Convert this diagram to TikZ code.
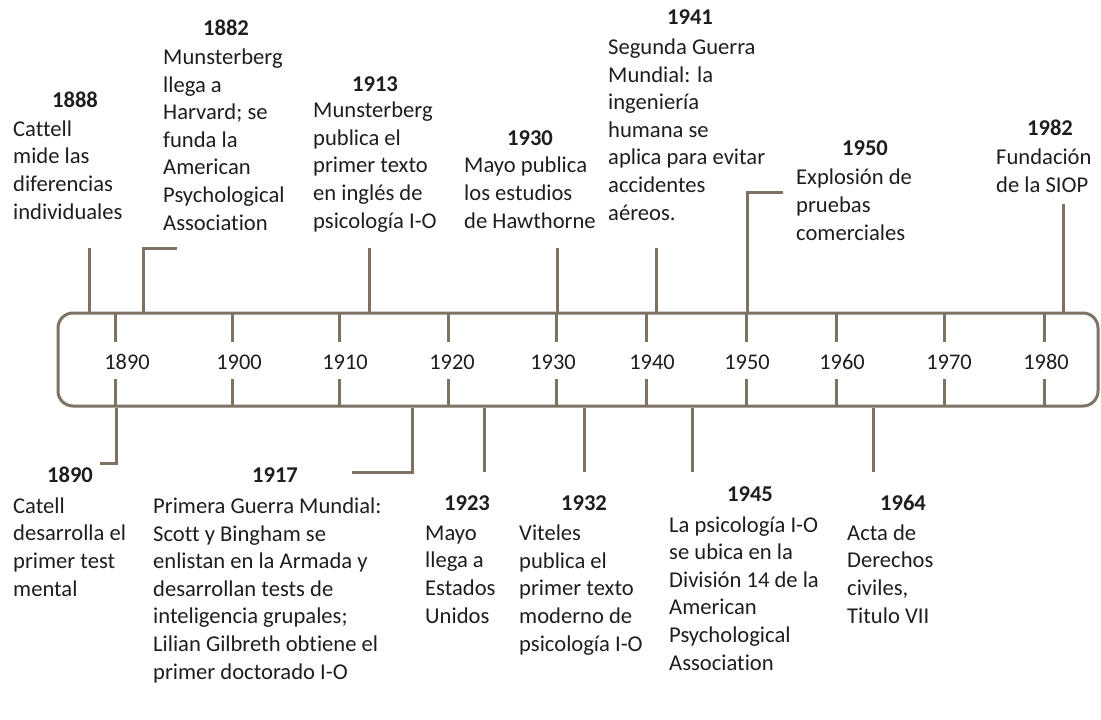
\documentclass[tikz,border=0pt]{standalone}
\usepackage{fontspec}
\setmainfont{Carlito}[Ligatures={NoCommon}]
\definecolor{lncol}{HTML}{7E7263}
\definecolor{txcol}{HTML}{1E1E1E}
\tikzset{
  ln/.style={draw=lncol, line width=3pt},
  bodytxt/.style={anchor=base west, align=left, inner sep=0pt, text=txcol, font=\fontsize{22.6}{27.6}\selectfont},
  yr/.style={anchor=base, inner sep=0pt, text=txcol, font=\fontsize{22.6}{27.6}\selectfont\bfseries},
  tk/.style={anchor=base, inner sep=0pt, text=txcol, font=\fontsize{22.4}{27.5}\selectfont},
  barbox/.style={draw=lncol, line width=3pt, rounded corners=15pt, inner sep=0pt, minimum width=1040pt, minimum height=93pt}
}
\begin{document}
\begin{tikzpicture}[x=1pt,y=-1pt]
\useasboundingbox (0,0) rectangle (1101,720);
% bar
\node[barbox] (bar) at (578,359.5) {};
% ticks
\foreach \x/\l/\lx in {115/1890/127, 232/1900/239, 339/1910/345, 448/1920/452, 556/1930/553, 646/1940/652, 746/1950/747, 836/1960/842, 944/1970/949, 1044/1980/1046}{
  \draw[ln] (\x,313) -- (\x,342);
  \draw[ln] (\x,379) -- (\x,406);
  \node[tk] (t\l) at (\lx,369) {\l};
}
% ---------- top events (body anchored at last baseline) ----------
\node[yr] (y1888) at (75,107) {1888};
\node[bodytxt] (b1888) at (13,219) {Cattell\\mide las\\diferencias\\individuales};
\node[yr] (y1882) at (226,35) {1882};
\node[bodytxt] (b1882) at (163,230) {Munsterberg\\llega a\\Harvard; se\\funda la\\American\\Psychological\\Association};
\node[yr] (y1913) at (375,91) {1913};
\node[bodytxt] (b1913) at (313,228) {Munsterberg\\publica el\\primer texto\\en inglés de\\psicología I-O};
\node[yr] (y1930) at (530,145) {1930};
\node[bodytxt] (b1930) at (464,228) {Mayo publica\\los estudios\\de Hawthorne};
\node[yr] (y1941) at (690,24) {1941};
\node[bodytxt] (b1941) at (608,220) {Segunda Guerra\\Mundial: la\\ingeniería\\humana se\\aplica para evitar\\accidentes\\aéreos.};
\node[yr] (y1950) at (865,155) {1950};
\node[bodytxt] (b1950) at (796,240) {Explosión de\\pruebas\\comerciales};
\node[yr] (y1982) at (1050,135) {1982};
\node[bodytxt] (b1982) at (996,192) {Fundación\\de la SIOP};
% ---------- bottom events ----------
\node[yr] (y1890) at (70,482) {1890};
\node[bodytxt] (b1890) at (13,596) {Catell\\desarrolla el\\primer test\\mental};
\node[yr] (y1917) at (275,482) {1917};
\node[bodytxt] (b1917) at (153,679) {Primera Guerra Mundial:\\Scott y Bingham se\\enlistan en la Armada y\\desarrollan tests de\\inteligencia grupales;\\Lilian Gilbreth obtiene el\\primer doctorado I-O};
\node[yr] (y1923) at (467,510) {1923};
\node[bodytxt] (b1923) at (425,623) {Mayo\\llega a\\Estados\\Unidos};
\node[yr] (y1932) at (584,510) {1932};
\node[bodytxt] (b1932) at (519,651) {Viteles\\publica el\\primer texto\\moderno de\\psicología I-O};
\node[yr] (y1945) at (750,501) {1945};
\node[bodytxt] (b1945) at (669,670) {La psicología I-O\\se ubica en la\\División 14 de la\\American\\Psychological\\Association};
\node[yr] (y1964) at (903,510) {1964};
\node[bodytxt] (b1964) at (847,623) {Acta de\\Derechos\\civiles,\\Titulo VII};
% ---------- connectors ----------
\coordinate (c1888) at (89,248);
\coordinate (c1882) at (177,248);
\coordinate (k1882) at (143,248);
\coordinate (c1913) at (369,248);
\coordinate (c1930) at (557,248);
\coordinate (c1941) at (656,248);
\coordinate (c1950) at (783,192);
\coordinate (k1950) at (747,192);
\coordinate (c1982) at (1063,204);
\draw[ln] (c1888) -- (c1888 |- bar.north);
\draw[ln] (c1882) -- (k1882) -- (k1882 |- bar.north);
\draw[ln] (c1913) -- (c1913 |- bar.north);
\draw[ln] (c1930) -- (c1930 |- bar.north);
\draw[ln] (c1941) -- (c1941 |- bar.north);
\draw[ln] (c1950) -- (k1950) -- (k1950 |- bar.north);
\draw[ln] (c1982) -- (c1982 |- bar.north);
\coordinate (c1890) at (100,463);
\coordinate (k1890) at (116,463);
\coordinate (c1917) at (352,472);
\coordinate (k1917) at (412,472);
\coordinate (c1923) at (484,472);
\coordinate (c1932) at (584,472);
\coordinate (c1945) at (692,472);
\coordinate (c1964) at (873,472);
\draw[ln] (k1890 |- bar.south) -- (k1890) -- (c1890);
\draw[ln] (k1917 |- bar.south) -- (k1917) -- (c1917);
\draw[ln] (c1923 |- bar.south) -- (c1923);
\draw[ln] (c1932 |- bar.south) -- (c1932);
\draw[ln] (c1945 |- bar.south) -- (c1945);
\draw[ln] (c1964 |- bar.south) -- (c1964);
\end{tikzpicture}
\end{document}
